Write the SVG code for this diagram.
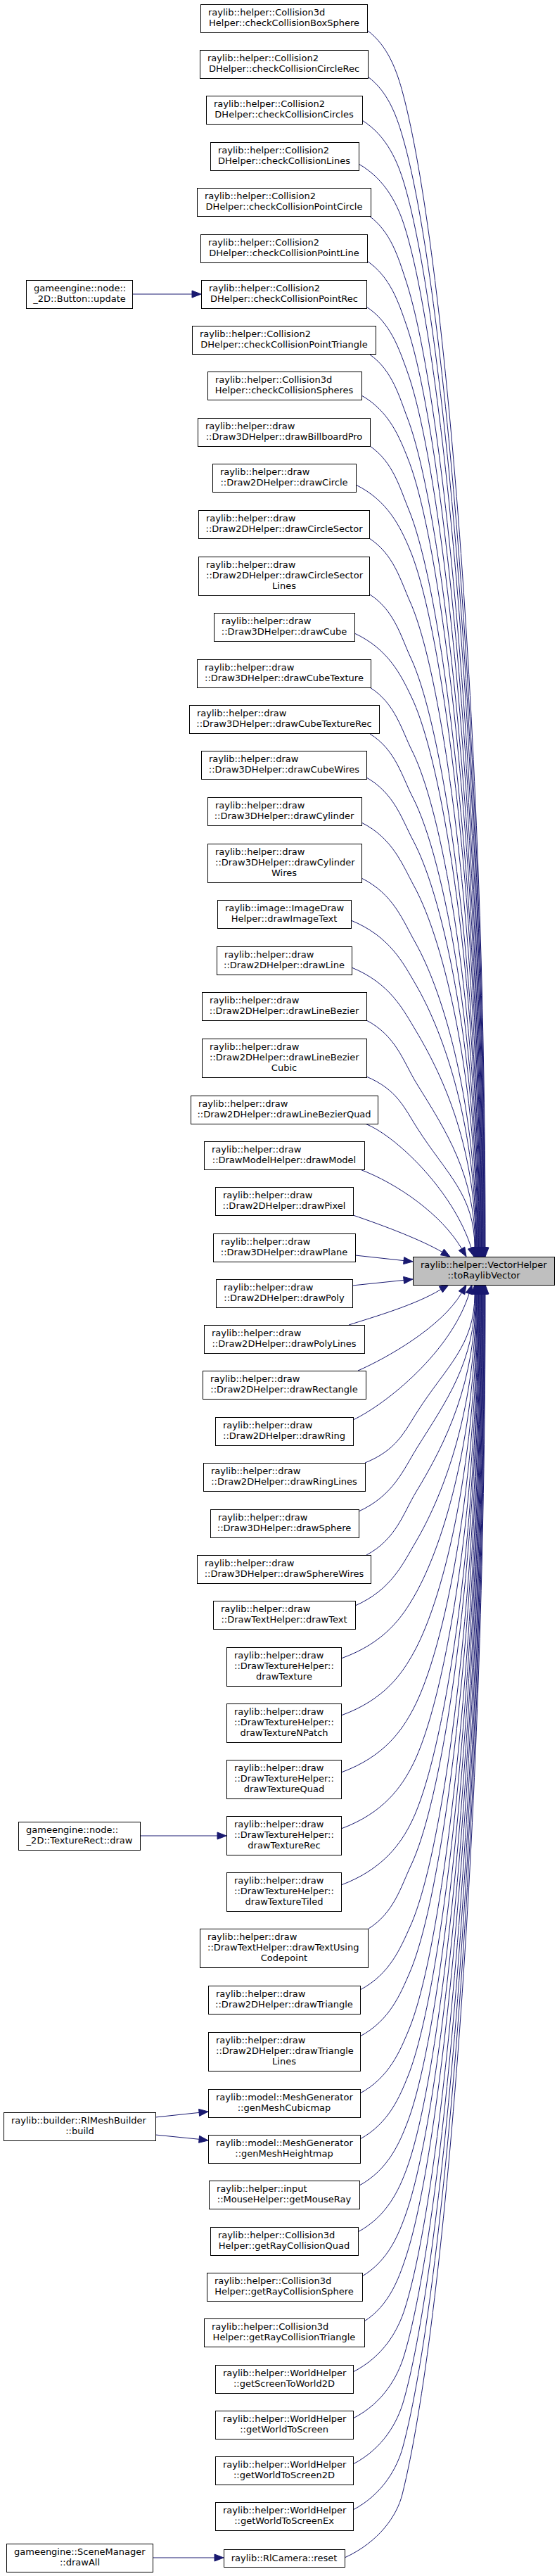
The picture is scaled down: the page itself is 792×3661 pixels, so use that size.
<svg xmlns="http://www.w3.org/2000/svg" width="792" height="3661" viewBox="0 0 792 3661">
<style>
.n rect{fill:#ffffff;stroke:#000000;stroke-width:1}
.t rect{fill:#bfbfbf;stroke:#000000;stroke-width:1}
text{font-family:"DejaVu Sans","Liberation Sans",sans-serif;font-size:13px;fill:#000000}
.m{text-anchor:middle}
.e path{fill:none;stroke:#191970;stroke-width:1}
.e polygon{fill:#191970;stroke:#191970;stroke-width:1}
</style>
<rect x="0" y="0" width="792" height="3661" fill="#ffffff"/>
<g id="edges" class="e">
<path d="M522,43 C552.5,65.5 564.9,103 572.9,133 C631.5,352.5 690,1036.6 690,1773"/>
<path d="M523,109 C553.5,131.5 565.3,169 573.8,199 C631.6,402.8 689.3,1066.3 689.3,1773"/>
<path d="M515,171 C550.8,193.5 565.7,231 574.7,261 C631.7,451.7 688.6,1094.3 688.6,1773"/>
<path d="M510,233 C549.4,255.5 566.2,293 575.6,323 C631.8,501.8 688,1122.1 688,1773"/>
<path d="M525,307 C556,329.5 566.6,367 576.6,397 C632,563.3 687.3,1155.4 687.3,1773"/>
<path d="M522,371 C555.3,393.5 567,431 577.5,461 C632.1,617.4 686.6,1184.3 686.6,1773"/>
<path d="M521,436 C555.4,458.5 567.4,496 578.4,526 C632.2,673.3 685.9,1213.5 685.9,1773"/>
<path d="M526,504 C558,526.5 567.8,564 579.3,594 C632.3,732.6 685.2,1244.1 685.2,1773"/>
<path d="M514,562 C553.7,584.5 568.2,622 580.1,652 C632.3,783.7 684.5,1270.2 684.5,1773"/>
<path d="M526,634 C559.1,656.5 568.7,694 581.1,724 C632.5,848 683.9,1302.6 683.9,1773"/>
<path d="M506,689 C551.5,711.5 569.1,749 581.9,779 C632.6,897.3 683.2,1327.4 683.2,1773"/>
<path d="M525,765 C559.8,787.5 569.6,825 583,855 C632.8,966.2 682.5,1361.6 682.5,1773"/>
<path d="M526,845 C560.9,867.5 570.1,905 584.1,935 C633,1039.5 681.8,1397.6 681.8,1773"/>
<path d="M504,900 C552.5,922.5 570.4,960 584.8,990 C633,1090.1 681.1,1422.3 681.1,1773"/>
<path d="M526,977 C561.9,999.5 570.9,1037 585.9,1067 C633.2,1161.6 680.5,1457 680.5,1773"/>
<path d="M526,1043 C562.5,1065.5 571.3,1103 586.8,1133 C633.3,1223 679.8,1486.7 679.8,1773"/>
<path d="M521,1105 C561,1127.5 571.7,1165 587.7,1195 C633.4,1280.9 679.1,1514.6 679.1,1773"/>
<path d="M514,1169 C558.8,1191.5 572.2,1229 588.6,1259 C633.5,1340.9 678.4,1543.4 678.4,1773"/>
<path d="M514,1248 C559.4,1270.5 572.7,1308 589.7,1338 C633.7,1415.5 677.7,1578.9 677.7,1773"/>
<path d="M499,1308 C553.9,1330.5 573,1368 590.5,1398 C633.8,1472.2 677,1605.9 677,1773"/>
<path d="M500,1375 C554.8,1397.5 573.4,1435 591.4,1465 C633.9,1535.9 676.4,1636 676.4,1773"/>
<path d="M521,1450 C563.9,1472.5 573.9,1510 592.5,1540 C634.1,1607.2 675.7,1669.8 675.7,1773"/>
<path d="M521,1530 C564.6,1548.5 574.5,1573.8 593.6,1603.8 C634.3,1667.6 675,1698.5 675,1773"/>
<path d="M519,1597 C560,1612 644,1690.6 670.1,1773.6"/>
<path d="M512,1662 C565,1682 628,1726 656.5,1774.7"/>
<path d="M502,1727 C540,1740 595,1760 628.8,1779.4"/>
<path d="M505,1784 L574.1,1791.6"/>
<path d="M501,1827 L574.1,1819.4"/>
<path d="M496,1883 C530,1872 590,1855 626.8,1832.6"/>
<path d="M509,1948 C550,1930 628,1886 656.5,1837.3"/>
<path d="M502,2018 C550,1995 641,1921.4 667.1,1838.4"/>
<path d="M519,2079 C563.8,2060.8 574.4,2036 593.6,2006 C634.3,1942.3 675,1912.5 675,1839"/>
<path d="M510,2148 C559.6,2125.5 574,2088 592.7,2058 C634.2,1991.3 675.7,1935.9 675.7,1839"/>
<path d="M521,2210 C563.5,2187.5 573.6,2150 591.8,2120 C634.1,2050.3 676.4,1963.8 676.4,1839"/>
<path d="M505,2282 C556.5,2259.5 573.1,2222 590.8,2192 C633.9,2118.8 677,1996.2 677,1839"/>
<path d="M485,2357 C547.9,2334.5 572.7,2297 589.8,2267 C633.7,2189.9 677.7,2030 677.7,1839"/>
<path d="M485,2438 C547.2,2415.5 572.1,2378 588.6,2348 C633.5,2266.3 678.4,2066.4 678.4,1839"/>
<path d="M485,2519 C546.5,2496.5 571.6,2459 587.5,2429 C633.3,2342.5 679.1,2102.9 679.1,1839"/>
<path d="M485,2599 C545.8,2576.5 571.1,2539 586.4,2509 C633.1,2417.3 679.8,2138.9 679.8,1839"/>
<path d="M485,2679 C545.2,2656.5 570.6,2619 585.3,2589 C632.9,2491.7 680.5,2174.9 680.5,1839"/>
<path d="M524,2741 C560.2,2718.5 570.2,2681 584.4,2651 C632.8,2548.9 681.1,2202.8 681.1,1839"/>
<path d="M512,2828 C554.7,2805.5 569.6,2768 583.2,2738 C632.5,2628.9 681.8,2241.9 681.8,1839"/>
<path d="M512,2894 C554.2,2871.5 569.2,2834 582.3,2804 C632.4,2689 682.5,2271.6 682.5,1839"/>
<path d="M512,2975 C553.5,2952.5 568.7,2915 581.2,2885 C632.2,2762.2 683.2,2308 683.2,1839"/>
<path d="M512,3040 C553,3017.5 568.3,2980 580.3,2950 C632.1,2820.2 683.9,2337.3 683.9,1839"/>
<path d="M511,3106 C552,3083.5 567.9,3046 579.4,3016 C632,2878.6 684.5,2367 684.5,1839"/>
<path d="M509,3172 C550.6,3149.5 567.4,3112 578.4,3082 C631.8,2936.1 685.2,2396.7 685.2,1839"/>
<path d="M515,3235 C552.6,3212.5 567.1,3175 577.6,3145 C631.8,2990.4 685.9,2425.1 685.9,1839"/>
<path d="M518,3299 C553.2,3276.5 566.7,3239 576.7,3209 C631.7,3044.6 686.6,2453.9 686.6,1839"/>
<path d="M502,3371 C546.2,3348.5 566.2,3311 575.7,3281 C631.5,3104.5 687.3,2486.3 687.3,1839"/>
<path d="M502,3437 C545.7,3414.5 565.8,3377 574.8,3347 C631.4,3158.2 688,2516 688,1839"/>
<path d="M502,3502 C545.1,3479.5 565.4,3442 573.9,3412 C631.3,3209.7 688.6,2545.2 688.6,1839"/>
<path d="M502,3567 C544.6,3544.5 565,3507 573,3477 C631.2,3259.4 689.3,2574.5 689.3,1839"/>
<path d="M490,3635 C539.2,3612.5 564.5,3575 572,3545 C631,3309 690,2605 690,1839"/>
<path d="M188,418 L273,418"/>
<path d="M199,2609 L309,2609"/>
<path d="M221,3009 L283.1,3002.4"/>
<path d="M221,3034 L283.1,3040.3"/>
<path d="M217,3635 L305,3635"/>
<polygon points="685,1773 695,1773 690,1786"/>
<polygon points="684.3,1773 694.3,1773 689.3,1786"/>
<polygon points="683.6,1773 693.6,1773 688.6,1786"/>
<polygon points="683,1773 693,1773 688,1786"/>
<polygon points="682.3,1773 692.3,1773 687.3,1786"/>
<polygon points="681.6,1773 691.6,1773 686.6,1786"/>
<polygon points="680.9,1773 690.9,1773 685.9,1786"/>
<polygon points="680.2,1773 690.2,1773 685.2,1786"/>
<polygon points="679.5,1773 689.5,1773 684.5,1786"/>
<polygon points="678.9,1773 688.9,1773 683.9,1786"/>
<polygon points="678.2,1773 688.2,1773 683.2,1786"/>
<polygon points="677.5,1773 687.5,1773 682.5,1786"/>
<polygon points="676.8,1773 686.8,1773 681.8,1786"/>
<polygon points="676.1,1773 686.1,1773 681.1,1786"/>
<polygon points="675.5,1773 685.5,1773 680.5,1786"/>
<polygon points="674.8,1773 684.8,1773 679.8,1786"/>
<polygon points="674.1,1773 684.1,1773 679.1,1786"/>
<polygon points="673.4,1773 683.4,1773 678.4,1786"/>
<polygon points="672.7,1773 682.7,1773 677.7,1786"/>
<polygon points="672,1773 682,1773 677,1786"/>
<polygon points="671.4,1773 681.4,1773 676.4,1786"/>
<polygon points="670.7,1773 680.7,1773 675.7,1786"/>
<polygon points="670,1773 680,1773 675,1786"/>
<polygon points="665.3,1775.1 674,1786 674.9,1772.1"/>
<polygon points="652.2,1777.2 663,1786 660.8,1772.2"/>
<polygon points="626.3,1783.7 640,1786 631.4,1775.1"/>
<polygon points="573.6,1796.6 587,1793 574.6,1786.6"/>
<polygon points="574.6,1824.4 587,1818 573.6,1814.4"/>
<polygon points="629.4,1836.9 638,1826 624.3,1828.3"/>
<polygon points="660.8,1839.8 663,1826 652.2,1834.8"/>
<polygon points="671.9,1839.9 671,1826 662.3,1836.9"/>
<polygon points="670,1839 680,1839 675,1826"/>
<polygon points="670.7,1839 680.7,1839 675.7,1826"/>
<polygon points="671.4,1839 681.4,1839 676.4,1826"/>
<polygon points="672,1839 682,1839 677,1826"/>
<polygon points="672.7,1839 682.7,1839 677.7,1826"/>
<polygon points="673.4,1839 683.4,1839 678.4,1826"/>
<polygon points="674.1,1839 684.1,1839 679.1,1826"/>
<polygon points="674.8,1839 684.8,1839 679.8,1826"/>
<polygon points="675.5,1839 685.5,1839 680.5,1826"/>
<polygon points="676.1,1839 686.1,1839 681.1,1826"/>
<polygon points="676.8,1839 686.8,1839 681.8,1826"/>
<polygon points="677.5,1839 687.5,1839 682.5,1826"/>
<polygon points="678.2,1839 688.2,1839 683.2,1826"/>
<polygon points="678.9,1839 688.9,1839 683.9,1826"/>
<polygon points="679.5,1839 689.5,1839 684.5,1826"/>
<polygon points="680.2,1839 690.2,1839 685.2,1826"/>
<polygon points="680.9,1839 690.9,1839 685.9,1826"/>
<polygon points="681.6,1839 691.6,1839 686.6,1826"/>
<polygon points="682.3,1839 692.3,1839 687.3,1826"/>
<polygon points="683,1839 693,1839 688,1826"/>
<polygon points="683.6,1839 693.6,1839 688.6,1826"/>
<polygon points="684.3,1839 694.3,1839 689.3,1826"/>
<polygon points="685,1839 695,1839 690,1826"/>
<polygon points="273,413 286,418 273,423"/>
<polygon points="309,2604 322,2609 309,2614"/>
<polygon points="283.6,3007.4 296,3001 282.6,2997.4"/>
<polygon points="282.6,3045.3 296,3042 283.6,3035.3"/>
<polygon points="305,3630 318,3635 305,3640"/>
</g>
<g id="target" class="t"><rect x="587.5" y="1786.5" width="201" height="40"/><text x="598" y="1802">raylib::helper::VectorHelper</text><text class="m" x="688" y="1817">::toRaylibVector</text></g>
<g id="caller_button_update" class="n"><rect x="37.5" y="398.5" width="151" height="40"/><text x="48" y="414">gameengine::node::</text><text class="m" x="113" y="429">_2D::Button::update</text></g>
<g id="caller_texturerect_draw" class="n"><rect x="26.5" y="2589.5" width="173" height="40"/><text x="37" y="2605">gameengine::node::</text><text class="m" x="113" y="2620">_2D::TextureRect::draw</text></g>
<g id="caller_meshbuilder_build" class="n"><rect x="5.5" y="3002.5" width="216" height="40"/><text x="16" y="3018">raylib::builder::RlMeshBuilder</text><text class="m" x="113.5" y="3033">::build</text></g>
<g id="caller_scenemanager_drawall" class="n"><rect x="9.5" y="3615.5" width="208" height="40"/><text x="20" y="3631">gameengine::SceneManager</text><text class="m" x="113.5" y="3646">::drawAll</text></g>
<g id="n1" class="n"><rect x="285.5" y="6.5" width="237" height="40"/><text x="296" y="22">raylib::helper::Collision3d</text><text class="m" x="404" y="37">Helper::checkCollisionBoxSphere</text></g>
<g id="n2" class="n"><rect x="284.5" y="71.5" width="239" height="40"/><text x="295" y="87">raylib::helper::Collision2</text><text class="m" x="404" y="102">DHelper::checkCollisionCircleRec</text></g>
<g id="n3" class="n"><rect x="293.5" y="136.5" width="222" height="40"/><text x="304" y="152">raylib::helper::Collision2</text><text class="m" x="404" y="167">DHelper::checkCollisionCircles</text></g>
<g id="n4" class="n"><rect x="299.5" y="202.5" width="211" height="40"/><text x="310" y="218">raylib::helper::Collision2</text><text class="m" x="404" y="233">DHelper::checkCollisionLines</text></g>
<g id="n5" class="n"><rect x="280.5" y="267.5" width="247" height="40"/><text x="291" y="283">raylib::helper::Collision2</text><text class="m" x="404" y="298">DHelper::checkCollisionPointCircle</text></g>
<g id="n6" class="n"><rect x="285.5" y="333.5" width="237" height="40"/><text x="296" y="349">raylib::helper::Collision2</text><text class="m" x="404" y="364">DHelper::checkCollisionPointLine</text></g>
<g id="n7" class="n"><rect x="286.5" y="398.5" width="235" height="40"/><text x="297" y="414">raylib::helper::Collision2</text><text class="m" x="404" y="429">DHelper::checkCollisionPointRec</text></g>
<g id="n8" class="n"><rect x="273.5" y="463.5" width="261" height="40"/><text x="284" y="479">raylib::helper::Collision2</text><text class="m" x="404" y="494">DHelper::checkCollisionPointTriangle</text></g>
<g id="n9" class="n"><rect x="295.5" y="528.5" width="219" height="40"/><text x="306" y="544">raylib::helper::Collision3d</text><text class="m" x="404" y="559">Helper::checkCollisionSpheres</text></g>
<g id="n10" class="n"><rect x="281.5" y="594.5" width="245" height="40"/><text x="292" y="610">raylib::helper::draw</text><text class="m" x="404" y="625">::Draw3DHelper::drawBillboardPro</text></g>
<g id="n11" class="n"><rect x="302.5" y="659.5" width="204" height="40"/><text x="313" y="675">raylib::helper::draw</text><text class="m" x="404" y="690">::Draw2DHelper::drawCircle</text></g>
<g id="n12" class="n"><rect x="282.5" y="725.5" width="243" height="40"/><text x="293" y="741">raylib::helper::draw</text><text class="m" x="404" y="756">::Draw2DHelper::drawCircleSector</text></g>
<g id="n13" class="n"><rect x="282.5" y="791.5" width="243" height="55"/><text x="293" y="807">raylib::helper::draw</text><text x="293" y="822">::Draw2DHelper::drawCircleSector</text><text class="m" x="404" y="837">Lines</text></g>
<g id="n14" class="n"><rect x="304.5" y="871.5" width="200" height="40"/><text x="315" y="887">raylib::helper::draw</text><text class="m" x="404" y="902">::Draw3DHelper::drawCube</text></g>
<g id="n15" class="n"><rect x="280.5" y="937.5" width="247" height="40"/><text x="291" y="953">raylib::helper::draw</text><text class="m" x="404" y="968">::Draw3DHelper::drawCubeTexture</text></g>
<g id="n16" class="n"><rect x="269.5" y="1002.5" width="270" height="40"/><text x="280" y="1018">raylib::helper::draw</text><text class="m" x="404" y="1033">::Draw3DHelper::drawCubeTextureRec</text></g>
<g id="n17" class="n"><rect x="286.5" y="1067.5" width="235" height="40"/><text x="297" y="1083">raylib::helper::draw</text><text class="m" x="404" y="1098">::Draw3DHelper::drawCubeWires</text></g>
<g id="n18" class="n"><rect x="295.5" y="1133.5" width="219" height="40"/><text x="306" y="1149">raylib::helper::draw</text><text class="m" x="404" y="1164">::Draw3DHelper::drawCylinder</text></g>
<g id="n19" class="n"><rect x="295.5" y="1199.5" width="219" height="55"/><text x="306" y="1215">raylib::helper::draw</text><text x="306" y="1230">::Draw3DHelper::drawCylinder</text><text class="m" x="404" y="1245">Wires</text></g>
<g id="n20" class="n"><rect x="309.5" y="1279.5" width="190" height="40"/><text x="320" y="1295">raylib::image::ImageDraw</text><text class="m" x="404" y="1310">Helper::drawImageText</text></g>
<g id="n21" class="n"><rect x="308.5" y="1345.5" width="192" height="40"/><text x="319" y="1361">raylib::helper::draw</text><text class="m" x="404" y="1376">::Draw2DHelper::drawLine</text></g>
<g id="n22" class="n"><rect x="287.5" y="1410.5" width="234" height="40"/><text x="298" y="1426">raylib::helper::draw</text><text class="m" x="404" y="1441">::Draw2DHelper::drawLineBezier</text></g>
<g id="n23" class="n"><rect x="287.5" y="1476.5" width="234" height="55"/><text x="298" y="1492">raylib::helper::draw</text><text x="298" y="1507">::Draw2DHelper::drawLineBezier</text><text class="m" x="404" y="1522">Cubic</text></g>
<g id="n24" class="n"><rect x="271.5" y="1557.5" width="266" height="40"/><text x="282" y="1573">raylib::helper::draw</text><text class="m" x="404" y="1588">::Draw2DHelper::drawLineBezierQuad</text></g>
<g id="n25" class="n"><rect x="290.5" y="1622.5" width="228" height="40"/><text x="301" y="1638">raylib::helper::draw</text><text class="m" x="404" y="1653">::DrawModelHelper::drawModel</text></g>
<g id="n26" class="n"><rect x="306.5" y="1687.5" width="196" height="40"/><text x="317" y="1703">raylib::helper::draw</text><text class="m" x="404" y="1718">::Draw2DHelper::drawPixel</text></g>
<g id="n27" class="n"><rect x="303.5" y="1753.5" width="202" height="40"/><text x="314" y="1769">raylib::helper::draw</text><text class="m" x="404" y="1784">::Draw3DHelper::drawPlane</text></g>
<g id="n28" class="n"><rect x="307.5" y="1818.5" width="194" height="40"/><text x="318" y="1834">raylib::helper::draw</text><text class="m" x="404" y="1849">::Draw2DHelper::drawPoly</text></g>
<g id="n29" class="n"><rect x="290.5" y="1883.5" width="228" height="40"/><text x="301" y="1899">raylib::helper::draw</text><text class="m" x="404" y="1914">::Draw2DHelper::drawPolyLines</text></g>
<g id="n30" class="n"><rect x="288.5" y="1948.5" width="232" height="40"/><text x="299" y="1964">raylib::helper::draw</text><text class="m" x="404" y="1979">::Draw2DHelper::drawRectangle</text></g>
<g id="n31" class="n"><rect x="306.5" y="2014.5" width="196" height="40"/><text x="317" y="2030">raylib::helper::draw</text><text class="m" x="404" y="2045">::Draw2DHelper::drawRing</text></g>
<g id="n32" class="n"><rect x="289.5" y="2079.5" width="230" height="40"/><text x="300" y="2095">raylib::helper::draw</text><text class="m" x="404" y="2110">::Draw2DHelper::drawRingLines</text></g>
<g id="n33" class="n"><rect x="299.5" y="2145.5" width="211" height="40"/><text x="310" y="2161">raylib::helper::draw</text><text class="m" x="404" y="2176">::Draw3DHelper::drawSphere</text></g>
<g id="n34" class="n"><rect x="280.5" y="2210.5" width="247" height="40"/><text x="291" y="2226">raylib::helper::draw</text><text class="m" x="404" y="2241">::Draw3DHelper::drawSphereWires</text></g>
<g id="n35" class="n"><rect x="303.5" y="2275.5" width="202" height="40"/><text x="314" y="2291">raylib::helper::draw</text><text class="m" x="404" y="2306">::DrawTextHelper::drawText</text></g>
<g id="n36" class="n"><rect x="322.5" y="2341.5" width="163" height="55"/><text x="333" y="2357">raylib::helper::draw</text><text x="333" y="2372">::DrawTextureHelper::</text><text class="m" x="404" y="2387">drawTexture</text></g>
<g id="n37" class="n"><rect x="322.5" y="2421.5" width="163" height="55"/><text x="333" y="2437">raylib::helper::draw</text><text x="333" y="2452">::DrawTextureHelper::</text><text class="m" x="404" y="2467">drawTextureNPatch</text></g>
<g id="n38" class="n"><rect x="322.5" y="2501.5" width="163" height="55"/><text x="333" y="2517">raylib::helper::draw</text><text x="333" y="2532">::DrawTextureHelper::</text><text class="m" x="404" y="2547">drawTextureQuad</text></g>
<g id="n39" class="n"><rect x="322.5" y="2581.5" width="163" height="55"/><text x="333" y="2597">raylib::helper::draw</text><text x="333" y="2612">::DrawTextureHelper::</text><text class="m" x="404" y="2627">drawTextureRec</text></g>
<g id="n40" class="n"><rect x="322.5" y="2661.5" width="163" height="55"/><text x="333" y="2677">raylib::helper::draw</text><text x="333" y="2692">::DrawTextureHelper::</text><text class="m" x="404" y="2707">drawTextureTiled</text></g>
<g id="n41" class="n"><rect x="284.5" y="2741.5" width="239" height="55"/><text x="295" y="2757">raylib::helper::draw</text><text x="295" y="2772">::DrawTextHelper::drawTextUsing</text><text class="m" x="404" y="2787">Codepoint</text></g>
<g id="n42" class="n"><rect x="296.5" y="2822.5" width="216" height="40"/><text x="307" y="2838">raylib::helper::draw</text><text class="m" x="404" y="2853">::Draw2DHelper::drawTriangle</text></g>
<g id="n43" class="n"><rect x="296.5" y="2888.5" width="216" height="55"/><text x="307" y="2904">raylib::helper::draw</text><text x="307" y="2919">::Draw2DHelper::drawTriangle</text><text class="m" x="404" y="2934">Lines</text></g>
<g id="n44" class="n"><rect x="296.5" y="2969.5" width="216" height="40"/><text x="307" y="2985">raylib::model::MeshGenerator</text><text class="m" x="404" y="3000">::genMeshCubicmap</text></g>
<g id="n45" class="n"><rect x="296.5" y="3034.5" width="216" height="40"/><text x="307" y="3050">raylib::model::MeshGenerator</text><text class="m" x="404" y="3065">::genMeshHeightmap</text></g>
<g id="n46" class="n"><rect x="297.5" y="3099.5" width="214" height="40"/><text x="308" y="3115">raylib::helper::input</text><text class="m" x="404" y="3130">::MouseHelper::getMouseRay</text></g>
<g id="n47" class="n"><rect x="299.5" y="3165.5" width="210" height="40"/><text x="310" y="3181">raylib::helper::Collision3d</text><text class="m" x="404" y="3196">Helper::getRayCollisionQuad</text></g>
<g id="n48" class="n"><rect x="294.5" y="3230.5" width="221" height="40"/><text x="305" y="3246">raylib::helper::Collision3d</text><text class="m" x="404" y="3261">Helper::getRayCollisionSphere</text></g>
<g id="n49" class="n"><rect x="290.5" y="3295.5" width="228" height="40"/><text x="301" y="3311">raylib::helper::Collision3d</text><text class="m" x="404" y="3326">Helper::getRayCollisionTriangle</text></g>
<g id="n50" class="n"><rect x="306.5" y="3361.5" width="196" height="40"/><text x="317" y="3377">raylib::helper::WorldHelper</text><text class="m" x="404" y="3392">::getScreenToWorld2D</text></g>
<g id="n51" class="n"><rect x="306.5" y="3426.5" width="196" height="40"/><text x="317" y="3442">raylib::helper::WorldHelper</text><text class="m" x="404" y="3457">::getWorldToScreen</text></g>
<g id="n52" class="n"><rect x="306.5" y="3491.5" width="196" height="40"/><text x="317" y="3507">raylib::helper::WorldHelper</text><text class="m" x="404" y="3522">::getWorldToScreen2D</text></g>
<g id="n53" class="n"><rect x="306.5" y="3556.5" width="196" height="40"/><text x="317" y="3572">raylib::helper::WorldHelper</text><text class="m" x="404" y="3587">::getWorldToScreenEx</text></g>
<g id="n54" class="n"><rect x="318.5" y="3623.5" width="172" height="25"/><text class="m" x="404" y="3640">raylib::RlCamera::reset</text></g>
</svg>
